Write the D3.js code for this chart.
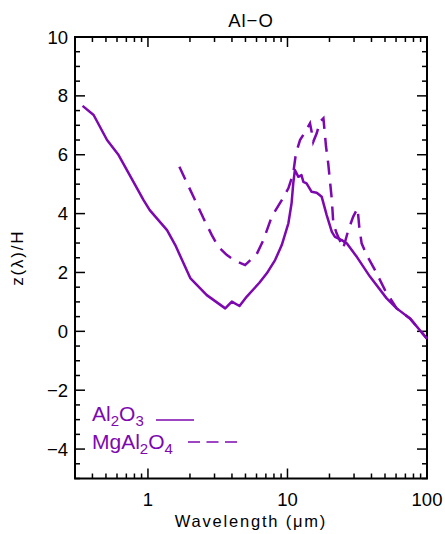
<!DOCTYPE html>
<html>
<head>
<meta charset="utf-8">
<script src="https://cdn.jsdelivr.net/npm/d3@7"></script>
<style>
  body { margin: 0; background: #fff; }
  svg text { font-family: "Liberation Sans", Arial, sans-serif; }
</style>
</head>
<body>
<svg id="chart" width="445" height="534"></svg>
<script>
// Data
const alWave = [0.34, 0.408, 0.509, 0.616, 0.811, 0.93, 1.03, 1.37, 1.57, 2.01, 2.64, 3.58, 3.99, 4.53, 5.11, 6.29, 7.11, 8.15, 9.1, 10.15, 10.7, 11.0, 11.3, 11.97, 12.6, 13.0, 13.7, 14.9, 16.2, 17.6, 19.1, 20.8, 21.9, 24.5, 26.6, 31.4, 39.0, 51.4, 60.6, 75.5, 100];
const alZ = [7.66, 7.35, 6.5, 5.99, 4.97, 4.46, 4.12, 3.44, 2.93, 1.81, 1.23, 0.78, 1.01, 0.86, 1.18, 1.65, 1.97, 2.42, 2.93, 3.67, 4.35, 5.03, 5.48, 5.25, 5.31, 5.08, 5.03, 4.74, 4.71, 4.57, 3.95, 3.38, 3.21, 3.1, 2.99, 2.53, 1.86, 1.12, 0.78, 0.44, -0.25];

const mgWave = [1.68, 2.12, 2.5, 2.87, 3.2, 3.68, 4.22, 4.97, 6.03, 6.72, 7.72, 9.1, 10.15, 11.0, 11.5, 12.3, 13.4, 14.5, 14.9, 15.3, 16.2, 17.1, 18.1, 18.9, 19.6, 20.8, 21.3, 22.5, 25.1, 27.3, 29.6, 31.8, 32.7, 34.0, 37.0, 42.4, 50.0, 60.6, 75.5, 100];
const mgZ = [5.59, 4.57, 3.84, 3.27, 2.87, 2.59, 2.4, 2.25, 2.63, 3.1, 3.9, 4.46, 4.86, 5.37, 6.05, 6.5, 6.78, 7.07, 6.78, 6.44, 6.73, 7.12, 7.24, 6.27, 5.7, 4.46, 3.67, 3.33, 2.82, 3.44, 3.9, 4.18, 3.55, 2.99, 2.59, 2.08, 1.4, 0.78, 0.44, -0.25];

const xTicks = [1, 10, 100];
const yTicks = [-4, -2, 0, 2, 4, 6, 8, 10];

const color = "#7d08b0";

// Layout
const plotL = 75, plotR = 427, plotT = 37, plotB = 478.5;

const svg = d3.select("#chart");

const x = d3.scaleLog().domain([0.3, 100]).range([plotL, plotR]);
const y = d3.scaleLinear().domain([-5, 10]).range([plotB, plotT]);

// minor ticks
let xMinor = [];
for (let e = -1; e <= 1; e++) {
  for (let m = 2; m <= 9; m++) {
    let v = m * Math.pow(10, e);
    if (v >= 0.3 && v <= 100) xMinor.push(v);
  }
}
let yMinor = d3.range(-5, 10.01, 0.5).filter(v => v % 2 !== 0);

const axisG = svg.append("g");

function tickLines(data, cls, x1, x2, y1, y2) {
  axisG.selectAll("." + cls).data(data).enter().append("line")
    .attr("class", cls)
    .attr("x1", x1).attr("x2", x2)
    .attr("y1", y1).attr("y2", y2)
    .attr("stroke", "#000").attr("stroke-width", 1.5);
}

// x ticks bottom and top (inward)
tickLines(xTicks, "xmaj", d => x(d), d => x(d), plotB, plotB - 10);
tickLines(xTicks, "xmajt", d => x(d), d => x(d), plotT, plotT + 10);
tickLines(xMinor, "xmin", d => x(d), d => x(d), plotB, plotB - 5);
tickLines(xMinor, "xmint", d => x(d), d => x(d), plotT, plotT + 5);

// y ticks left and right (inward)
tickLines(yTicks, "ymaj", plotL, plotL + 10, d => y(d), d => y(d));
tickLines(yTicks, "ymajr", plotR, plotR - 10, d => y(d), d => y(d));
tickLines(yMinor, "ymin", plotL, plotL + 5, d => y(d), d => y(d));
tickLines(yMinor, "yminr", plotR, plotR - 5, d => y(d), d => y(d));

// frame
svg.append("rect")
  .attr("x", plotL).attr("y", plotT)
  .attr("width", plotR - plotL).attr("height", plotB - plotT)
  .attr("fill", "none").attr("stroke", "#000").attr("stroke-width", 2);

// tick labels
axisG.selectAll(".xlab").data(xTicks).enter().append("text")
  .attr("x", d => x(d)).attr("y", plotB + 27)
  .attr("text-anchor", "middle").attr("font-size", 18.5)
  .text(d => d);
axisG.selectAll(".ylab").data(yTicks).enter().append("text")
  .attr("x", plotL - 7).attr("y", d => y(d) + 6.5)
  .attr("text-anchor", "end").attr("font-size", 18.5)
  .text(d => d < 0 ? "\u2212" + Math.abs(d) : d);

// titles
svg.append("text").attr("x", (plotL + plotR) / 2).attr("y", 27)
  .attr("text-anchor", "middle").attr("font-size", 18.5).attr("letter-spacing", 1)
  .text("Al\u2212O");
svg.append("text").attr("x", (plotL + plotR) / 2).attr("y", 527)
  .attr("text-anchor", "middle").attr("font-size", 16.5).attr("letter-spacing", 1.8)
  .text("Wavelength (\u03bcm)");
svg.append("text")
  .attr("transform", `translate(23,${(plotT + plotB) / 2}) rotate(-90)`)
  .attr("text-anchor", "middle").attr("font-size", 17).attr("letter-spacing", 1.8)
  .text("z(\u03bb)/H");

// curves
const line = d3.line().x(d => x(d[0])).y(d => y(d[1]));

svg.append("path")
  .datum(d3.zip(alWave, alZ))
  .attr("d", line)
  .attr("fill", "none").attr("stroke", color).attr("stroke-width", 2.5)
  .attr("stroke-linejoin", "round");

svg.append("path")
  .datum(d3.zip(mgWave, mgZ))
  .attr("d", line)
  .attr("fill", "none").attr("stroke", color).attr("stroke-width", 2.5)
  .attr("stroke-dasharray", "14,9");

// legend
const leg = svg.append("g").attr("fill", color);
const t1 = leg.append("text").attr("x", 92).attr("y", 421).attr("font-size", 21);
t1.append("tspan").text("Al");
t1.append("tspan").attr("dy", 5).attr("font-size", 15).text("2");
t1.append("tspan").attr("dy", -5).text("O");
t1.append("tspan").attr("dy", 5).attr("font-size", 15).text("3");
leg.append("line").attr("x1", 156).attr("x2", 194).attr("y1", 420).attr("y2", 420)
  .attr("stroke", color).attr("stroke-width", 1.5);

const t2 = leg.append("text").attr("x", 92).attr("y", 448.5).attr("font-size", 21);
t2.append("tspan").text("MgAl");
t2.append("tspan").attr("dy", 5).attr("font-size", 15).text("2");
t2.append("tspan").attr("dy", -5).text("O");
t2.append("tspan").attr("dy", 5).attr("font-size", 15).text("4");
leg.append("line").attr("x1", 188).attr("x2", 237).attr("y1", 442).attr("y2", 442)
  .attr("stroke", color).attr("stroke-width", 1.5).attr("stroke-dasharray", "12,6.5");
</script>
</body>
</html>
